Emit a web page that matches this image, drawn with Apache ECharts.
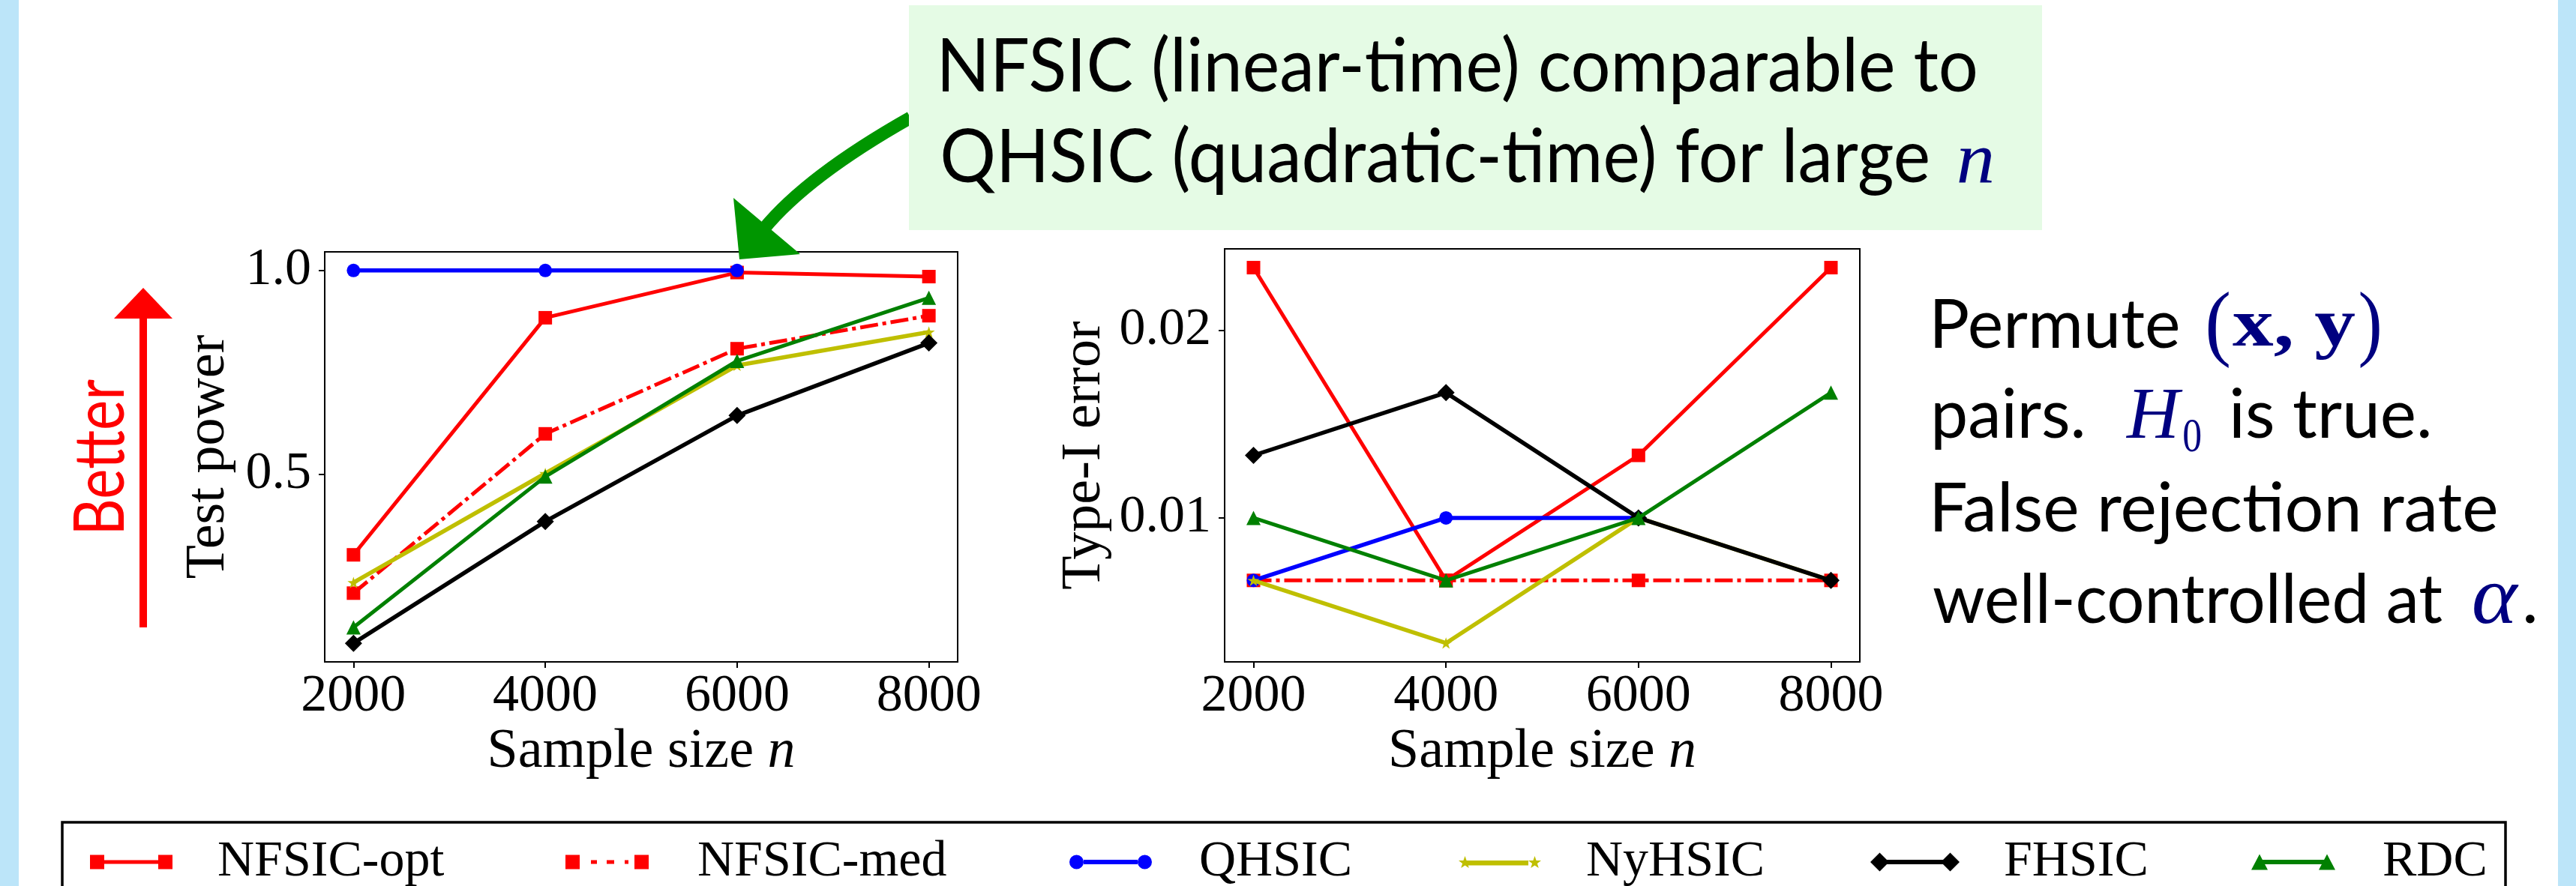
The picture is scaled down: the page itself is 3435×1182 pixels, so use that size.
<!DOCTYPE html>
<html><head><meta charset="utf-8">
<script src="https://cdn.jsdelivr.net/npm/echarts@6/dist/echarts.min.js"></script>
<style>html,body{margin:0;padding:0;background:#fff;}#chart{width:3435px;height:1182px;}</style>
</head><body><div id="chart"></div>
<script>
// ---------------- data ----------------
const sampleSizes = [2000, 4000, 6000, 8000];
const methodNames = ['NFSIC-opt', 'NFSIC-med', 'QHSIC', 'NyHSIC', 'FHSIC', 'RDC'];

const powerNfsicOpt = [0.302, 0.884, 0.995, 0.985];
const powerNfsicMed = [0.208, 0.599, 0.808, 0.889];
const powerQhsic    = [1.0, 1.0, 1.0, null];
const powerNyhsic   = [0.234, 0.502, 0.767, 0.849];
const powerFhsic    = [0.085, 0.384, 0.644, 0.822];
const powerRdc      = [0.124, 0.494, 0.778, 0.933];

const errNfsicOpt = [0.02333, 0.00667, 0.01333, 0.02333];
const errNfsicMed = [0.00667, 0.00667, 0.00667, 0.00667];
const errQhsic    = [0.00667, 0.01, 0.01, null];
const errNyhsic   = [0.00667, 0.00333, 0.01, 0.00667];
const errFhsic    = [0.01333, 0.01667, 0.01, 0.00667];
const errRdc      = [0.01, 0.00667, 0.01, 0.01667];

const xTicks = [2000, 4000, 6000, 8000];
const powerTicks = [0.5, 1.0];
const errorTicks = [0.01, 0.02];

const powerSeries = [powerNfsicOpt, powerNfsicMed, powerQhsic, powerNyhsic, powerFhsic, powerRdc];
const errorSeries = [errNfsicOpt, errNfsicMed, errQhsic, errNyhsic, errFhsic, errRdc];

// ---------------- helpers ----------------
function padRange(arrs, frac) {
  const v = [].concat(...arrs).filter(x => x != null);
  const lo = Math.min(...v), hi = Math.max(...v), m = (hi - lo) * frac;
  return [lo - m, hi + m];
}
const xr = padRange([sampleSizes], 0.05);
const pr = padRange(powerSeries, 0.05);
const er = padRange(errorSeries, 0.05);

const STAR = 'path://M50,0L61.2,34.5L97.6,34.5L68.2,55.9L79.4,90.5L50,69.1L20.6,90.5L31.8,55.9L2.4,34.5L38.8,34.5Z';
const styles = [
  {color: '#ff0000', symbol: 'rect', size: 18, width: 5, type: 'solid'},
  {color: '#ff0000', symbol: 'rect', size: 18, width: 5, type: [24, 6, 5, 6]},
  {color: '#0000ff', symbol: 'circle', size: 18, width: 5.5, type: 'solid'},
  {color: '#bfbf00', symbol: STAR, size: 16, width: 5.5, type: 'solid'},
  {color: '#000000', symbol: 'diamond', size: 23, width: 5.5, type: 'solid'},
  {color: '#008000', symbol: 'triangle', size: 19, width: 5, type: 'solid'}
];

const series = [];
[powerSeries, errorSeries].forEach((group, k) => {
  group.forEach((vals, i) => {
    const st = styles[i];
    series.push({
      type: 'line', name: methodNames[i], xAxisIndex: k, yAxisIndex: k,
      data: sampleSizes.map((x, j) => [x, vals[j]]).filter(p => p[1] != null),
      symbol: st.symbol, symbolSize: st.size, symbolKeepAspect: true, showSymbol: true,
      lineStyle: {color: st.color, width: st.width, type: st.type, cap: 'butt'},
      itemStyle: {color: st.color, borderWidth: 0},
      z: 2 + i, emphasis: {disabled: true}, silent: true, clip: false
    });
  });
});

const SERIF = 'Liberation Serif';
const tickFont = {fontFamily: SERIF, fontSize: 70, color: '#000'};
const nameFont = {fontFamily: SERIF, fontSize: 74, color: '#000',
  rich: {i: {fontFamily: SERIF, fontSize: 74, fontStyle: 'italic', color: '#000'}}};

function xAxisDef(idx) {
  return {
    type: 'value', gridIndex: idx, min: xr[0], max: xr[1],
    name: 'Sample size {i|n}', nameLocation: 'middle', nameGap: 84, nameTextStyle: nameFont,
    axisLine: {show: true, onZero: false, lineStyle: {color: '#000', width: 2}},
    axisTick: {show: true, length: 8, lineStyle: {color: '#000', width: 2}, customValues: xTicks},
    axisLabel: Object.assign({customValues: xTicks, margin: 12, formatter: v => String(v)}, tickFont),
    splitLine: {show: false}
  };
}
function yAxisDef(idx, r, ticks, name, gap, dec) {
  return {
    type: 'value', gridIndex: idx, min: r[0], max: r[1],
    name: name, nameLocation: 'middle', nameGap: gap, nameTextStyle: nameFont,
    axisLine: {show: true, onZero: false, lineStyle: {color: '#000', width: 2}},
    axisTick: {show: true, length: 8, lineStyle: {color: '#000', width: 2}, customValues: ticks},
    axisLabel: Object.assign({customValues: ticks, margin: 18, formatter: v => v.toFixed(dec)}, tickFont),
    splitLine: {show: false}
  };
}

// ---------------- legend ----------------
const legendIcons = {
  'NFSIC-opt': {icon: 'path://M0,0h19v19h-19zM91,0h19v19h-19zM19,7h72v5h-72z', w: 110, h: 19, left: 120, pad: 55},
  'NFSIC-med': {icon: 'path://M0,0h19v19h-19zM92,0h19v19h-19zM34,7h8v5h-8zM55,7h10v5h-10zM79,7h5v5h-5z', w: 111, h: 19, left: 754, pad: 60},
  'QHSIC': {icon: 'path://M0,9.5a9.5,9.5 0 1,0 19,0a9.5,9.5 0 1,0 -19,0zM91,9.5a9.5,9.5 0 1,0 19,0a9.5,9.5 0 1,0 -19,0zM19,6.5h72v6h-72z', w: 110, h: 19, left: 1426, pad: 58},
  'NyHSIC': {icon: 'path://M8.5,0L10.6,6.1L17,6.2L11.9,10.1L13.8,16.2L8.5,12.5L3.2,16.2L5.1,10.1L0,6.2L6.4,6.1zM101.5,0L103.6,6.1L110,6.2L104.9,10.1L106.8,16.2L101.5,12.5L96.2,16.2L98.1,10.1L93,6.2L99.4,6.1zM10,6h83v6.5h-83z', w: 110, h: 16.2, left: 1945, pad: 55},
  'FHSIC': {icon: 'path://M0,12.5L12.5,0L25,12.5L12.5,25zM94,12.5L106.5,0L119,12.5L106.5,25zM12.5,9.5h94v6h-94z', w: 119, h: 25, left: 2494, pad: 54},
  'RDC': {icon: 'path://M0,21L11,0L22,21zM90,21L101,0L112,21zM11,7.5h90v6h-90z', w: 112, h: 21, left: 3002, pad: 58}
};
const legends = methodNames.map(n => {
  const L = legendIcons[n];
  return {
    show: true, data: [{name: n, icon: L.icon}], left: L.left, top: 1116, orient: 'horizontal',
    itemWidth: L.w, itemHeight: L.h, padding: 0, itemGap: 0, selectedMode: false,
    itemStyle: {borderWidth: 0},
    textStyle: {fontFamily: SERIF, fontSize: 68, color: '#000', lineHeight: 68, padding: [0, 0, 0, L.pad]}
  };
});

// ---------------- text / decorations ----------------
const cv = document.createElement('canvas').getContext('2d');
function fontStr(sp) {
  return (sp.italic ? 'italic ' : '') + (sp.bold ? 'bold ' : '') + sp.size + 'px "' + sp.family + '"';
}
function metrics(text, font) {
  cv.font = font; cv.textBaseline = 'alphabetic';
  const m = cv.measureText(text);
  cv.textBaseline = 'middle';
  const mm = cv.measureText(text);
  return {l: m.actualBoundingBoxLeft, r: m.actualBoundingBoxRight, mid: m.actualBoundingBoxAscent - mm.actualBoundingBoxAscent};
}
function textEl(sp) {
  const font = fontStr(sp);
  const m = metrics(sp.text, font);
  const s = (sp.right - sp.left) / (m.l + m.r);
  return {type: 'text', x: sp.left + s * m.l, y: sp.baseline - m.mid, scaleX: s, z: 102, silent: true,
    style: {text: sp.text, font: font, fill: sp.color || '#000', align: 'left', verticalAlign: 'middle'}};
}
const SANS = 'Lato', NAVY = '#000080';
const textSpecs = [
  {text: 'NFSIC (linear-time) comparable to', family: SANS, size: 99, left: 1257, right: 2634, baseline: 122},
  {text: 'QHSIC (quadratic-time) for large', family: SANS, size: 99, left: 1257, right: 2571, baseline: 243},
  {text: 'n', family: SERIF, italic: true, size: 98, left: 2612, right: 2656, baseline: 243, color: NAVY},
  {text: 'Permute', family: SANS, size: 92, left: 2580, right: 2905, baseline: 464},
  {text: '(', family: SERIF, size: 112, left: 2944, right: 2972, baseline: 467, color: NAVY},
  {text: 'x, y', family: SERIF, bold: true, size: 92, left: 2977, right: 3141, baseline: 461, color: NAVY},
  {text: ')', family: SERIF, size: 112, left: 3147, right: 3173, baseline: 467, color: NAVY},
  {text: 'pairs.', family: SANS, size: 92, left: 2580, right: 2777, baseline: 584},
  {text: 'H', family: SERIF, italic: true, size: 97, left: 2834, right: 2911, baseline: 584, color: NAVY},
  {text: '0', family: SERIF, size: 63, left: 2912, right: 2935, baseline: 602, color: NAVY},
  {text: 'is true.', family: SANS, size: 92, left: 2977, right: 3239, baseline: 584},
  {text: 'False rejection rate', family: SANS, size: 92, left: 2580, right: 3329, baseline: 709},
  {text: 'well-controlled at', family: SANS, size: 92, left: 2578, right: 3257, baseline: 831},
  {text: '\u03b1', family: SERIF, italic: true, size: 110, left: 3299, right: 3359, baseline: 831, color: NAVY},
  {text: '.', family: SANS, size: 92, left: 3368, right: 3380, baseline: 831}
];

const G = [];
G.push({type: 'rect', shape: {x: 0, y: 0, width: 25, height: 1182}, style: {fill: '#bce5f9'}, z: 1, silent: true});
G.push({type: 'rect', shape: {x: 3411, y: 0, width: 24, height: 1182}, style: {fill: '#bce5f9'}, z: 1, silent: true});
G.push({type: 'rect', shape: {x: 83, y: 1097, width: 3258, height: 200}, style: {fill: 'none', stroke: '#000', lineWidth: 3.5}, z: 1, silent: true});
// green curved arrow
G.push({type: 'bezierCurve', shape: {x1: 1214, y1: 157, x2: 1018, y2: 306, cpx1: 1076, cpy1: 235},
  style: {stroke: '#009600', lineWidth: 17, fill: 'none', lineCap: 'butt'}, z: 100, silent: true});
G.push({type: 'polygon', shape: {points: [[978, 264], [1067, 339], [986, 346]]}, style: {fill: '#009600'}, z: 100, silent: true});
G.push({type: 'rect', shape: {x: 1212, y: 7, width: 1511, height: 300}, style: {fill: '#e5fbe5'}, z: 101, silent: true});
// red "Better" arrow
G.push({type: 'rect', shape: {x: 186, y: 423, width: 10, height: 414}, style: {fill: '#ff0000'}, z: 100, silent: true});
G.push({type: 'polygon', shape: {points: [[152, 425], [230, 425], [191, 384]]}, style: {fill: '#ff0000'}, z: 100, silent: true});
// "Better" rotated text
(function () {
  const font = fontStr({family: SANS, size: 93});
  const m = metrics('Better', font);
  const s = (708 - 506) / (m.l + m.r);
  G.push({type: 'text', rotation: Math.PI / 2, scaleX: s, x: 165 - m.mid, y: 708 - s * m.l, z: 102, silent: true,
    style: {text: 'Better', font: font, fill: '#ff0000', align: 'left', verticalAlign: 'middle'}});
})();
textSpecs.forEach(sp => G.push(textEl(sp)));

// ---------------- chart ----------------
const chart = echarts.init(document.getElementById('chart'), null, {renderer: 'canvas'});
chart.setOption({
  animation: false,
  backgroundColor: '#ffffff',
  grid: [
    {left: 433, top: 336, width: 844, height: 547, show: true, borderColor: '#000', borderWidth: 2, backgroundColor: 'transparent', containLabel: false, outerBoundsMode: 'none'},
    {left: 1633, top: 332, width: 847, height: 551, show: true, borderColor: '#000', borderWidth: 2, backgroundColor: 'transparent', containLabel: false, outerBoundsMode: 'none'}
  ],
  xAxis: [xAxisDef(0), xAxisDef(1)],
  yAxis: [
    yAxisDef(0, pr, powerTicks, 'Test power', 117, 1),
    yAxisDef(1, er, errorTicks, 'Type-I error', 149, 2)
  ],
  legend: legends,
  series: series,
  graphic: {elements: G}
});
</script></body></html>
